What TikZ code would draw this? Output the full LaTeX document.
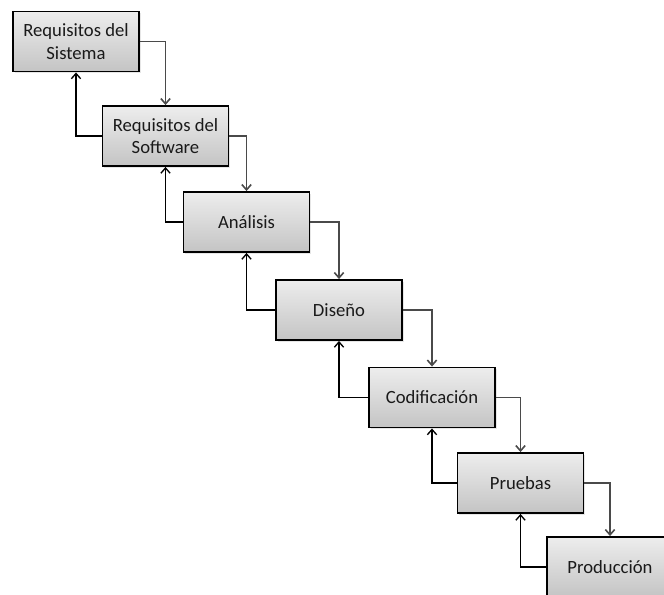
\documentclass[tikz,border=0pt]{standalone}
\usepackage{fontspec}
\setmainfont{Carlito}
\usetikzlibrary{arrows.meta,shadows}
\definecolor{boxtop}{HTML}{EDEDED}
\definecolor{boxbottom}{HTML}{C4C4C4}
\definecolor{fwdline}{HTML}{4A4A4A}
\definecolor{labeltext}{HTML}{1A1A1A}
\begin{document}
\begin{tikzpicture}[x=0.75pt,y=-0.75pt,
  stagebox/.style={draw=black, line width=1.4pt, rectangle,
    minimum width=94.5pt, minimum height=45pt, inner sep=2pt,
    top color=boxtop, bottom color=boxbottom,
    drop shadow={opacity=0.2, shadow xshift=1.2pt, shadow yshift=-1.2pt},
    align=center, text=labeltext,
    font=\fontsize{14}{17}\selectfont},
  fwdarrow/.style={draw=fwdline, line width=1.2pt, -{Straight Barb[length=4pt,width=7pt]}},
  backarrow/.style={draw=black, line width=1pt, -{Straight Barb[length=4pt,width=7pt]}}]
  \useasboundingbox (0,0) rectangle (664,594);
  \clip (0,0) rectangle (664,594);

  % waterfall stages
  \node[stagebox] (req)  at (76,41.5)   {Requisitos del\\Sistema};
  \node[stagebox] (sw)   at (165.5,136) {Requisitos del\\Software};
  \node[stagebox] (ana)  at (246.5,222) {Análisis};
  \node[stagebox] (dis)  at (339,310)   {Diseño};
  \node[stagebox] (cod)  at (432,397.5) {Codificación};
  \node[stagebox] (pru)  at (520.5,483) {Pruebas};
  \node[stagebox] (prod) at (610,567)   {Producción};

  % downward flow
  \draw[fwdarrow] (req.east) -| (sw.north);
  \draw[fwdarrow] (sw.east)  -| (ana.north);
  \draw[fwdarrow] (ana.east) -| (dis.north);
  \draw[fwdarrow] (dis.east) -| (cod.north);
  \draw[fwdarrow] (cod.east) -| (pru.north);
  \draw[fwdarrow] (pru.east) -| (prod.north);

  % feedback to previous stage
  \draw[backarrow] (sw.west)   -| (req.south);
  \draw[backarrow] (ana.west)  -| (sw.south);
  \draw[backarrow] (dis.west)  -| (ana.south);
  \draw[backarrow] (cod.west)  -| (dis.south);
  \draw[backarrow] (pru.west)  -| (cod.south);
  \draw[backarrow] (prod.west) -| (pru.south);
\end{tikzpicture}
\end{document}
